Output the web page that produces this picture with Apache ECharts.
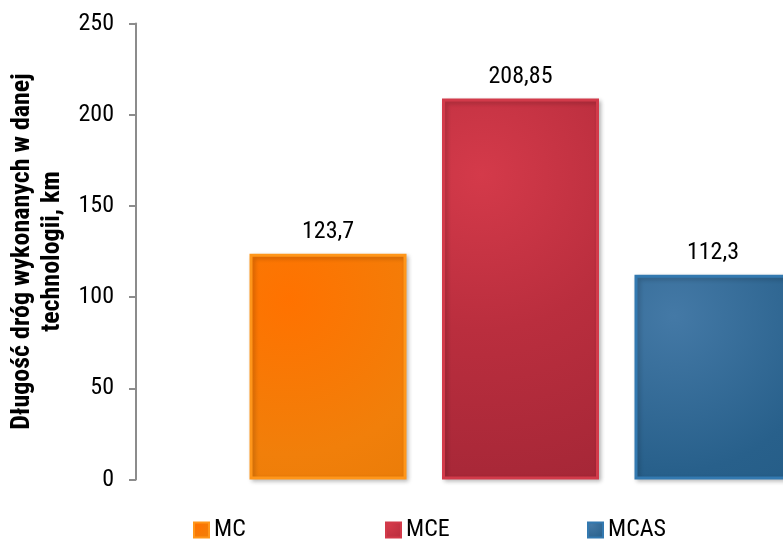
<!DOCTYPE html>
<html><head><meta charset="utf-8">
<script src="https://cdn.jsdelivr.net/npm/echarts@6/dist/echarts.min.js"></script>
<style>html,body{margin:0;padding:0;background:#fff}#c{width:783px;height:541px}</style>
</head><body><div id="c"></div>
<script>
var categories = [''];
var seriesNames = ['MC', 'MCE', 'MCAS'];
var seriesValues = [[123.7], [208.85], [112.3]];
var yTicks = [0, 50, 100, 150, 200, 250];
var yTitle = 'Długość dróg wykonanych w danej\ntechnologii, km';

var FONT = '"Roboto Condensed", "DejaVu Sans Condensed", sans-serif';
var legendLefts = [193, 385, 587];
var styles = [
  {c0: '#FF7200', c1: '#F17F0A', c2: '#DE7806', border: '#FF961A'},
  {c0: '#D43A4A', c1: '#BA2E3E', c2: '#A32636', border: '#D23A4A'},
  {c0: '#4479A6', c1: '#28608B', c2: '#1D567E', border: '#3379B0'}
];
function fill(s) {
  return {type: 'radial', x: 0.25, y: 0.2, r: 2.2,
    colorStops: [{offset: 0, color: s.c0}, {offset: 0.45, color: s.c1}, {offset: 1, color: s.c2}]};
}
var series = seriesNames.map(function (n, i) {
  return {
    name: n, type: 'bar', data: seriesValues[i],
    barWidth: 157, barGap: '22.6%',
    itemStyle: {color: fill(styles[i]), borderColor: styles[i].border, borderWidth: 3,
      shadowColor: 'rgba(0,0,0,0.22)', shadowBlur: 4, shadowOffsetX: 2, shadowOffsetY: 2},
    label: {show: true, position: 'top', distance: 10, color: '#000',
      fontFamily: FONT, fontSize: 24,
      formatter: function (p) { return String(p.value).replace('.', ','); }}
  };
});
var legends = seriesNames.map(function (n, i) {
  return {
    data: [n], left: legendLefts[i], top: 518, padding: 0, itemWidth: 15, itemHeight: 15,
    itemGap: 0, icon: 'rect',
    textStyle: {fontFamily: FONT, fontSize: 24, lineHeight: 24, color: '#000'}
  };
});
var chart = echarts.init(document.getElementById('c'), null, {renderer: 'canvas'});
chart.setOption({
  animation: false,
  backgroundColor: '#fff',
  grid: {left: 136, top: 23.5, bottom: 61.5, right: -122, containLabel: false, outerBoundsMode: 'none'},
  legend: legends,
  xAxis: {type: 'category', data: categories, axisLine: {show: false}, axisTick: {show: false}, axisLabel: {show: false}},
  yAxis: {
    type: 'value', min: yTicks[0], max: yTicks[yTicks.length - 1], interval: yTicks[1] - yTicks[0],
    name: yTitle, nameLocation: 'middle', nameRotate: 90, nameGap: 64,
    nameTextStyle: {fontFamily: FONT, fontSize: 26, fontWeight: 'bold', color: '#000', lineHeight: 30, align: 'center'},
    axisLine: {show: true, lineStyle: {color: '#8c8c8c', width: 2}},
    axisTick: {show: true, length: 7, lineStyle: {color: '#8c8c8c', width: 2}},
    splitLine: {show: false},
    axisLabel: {margin: 22, fontFamily: FONT, fontSize: 24, color: '#000'}
  },
  series: series
});
</script></body></html>
